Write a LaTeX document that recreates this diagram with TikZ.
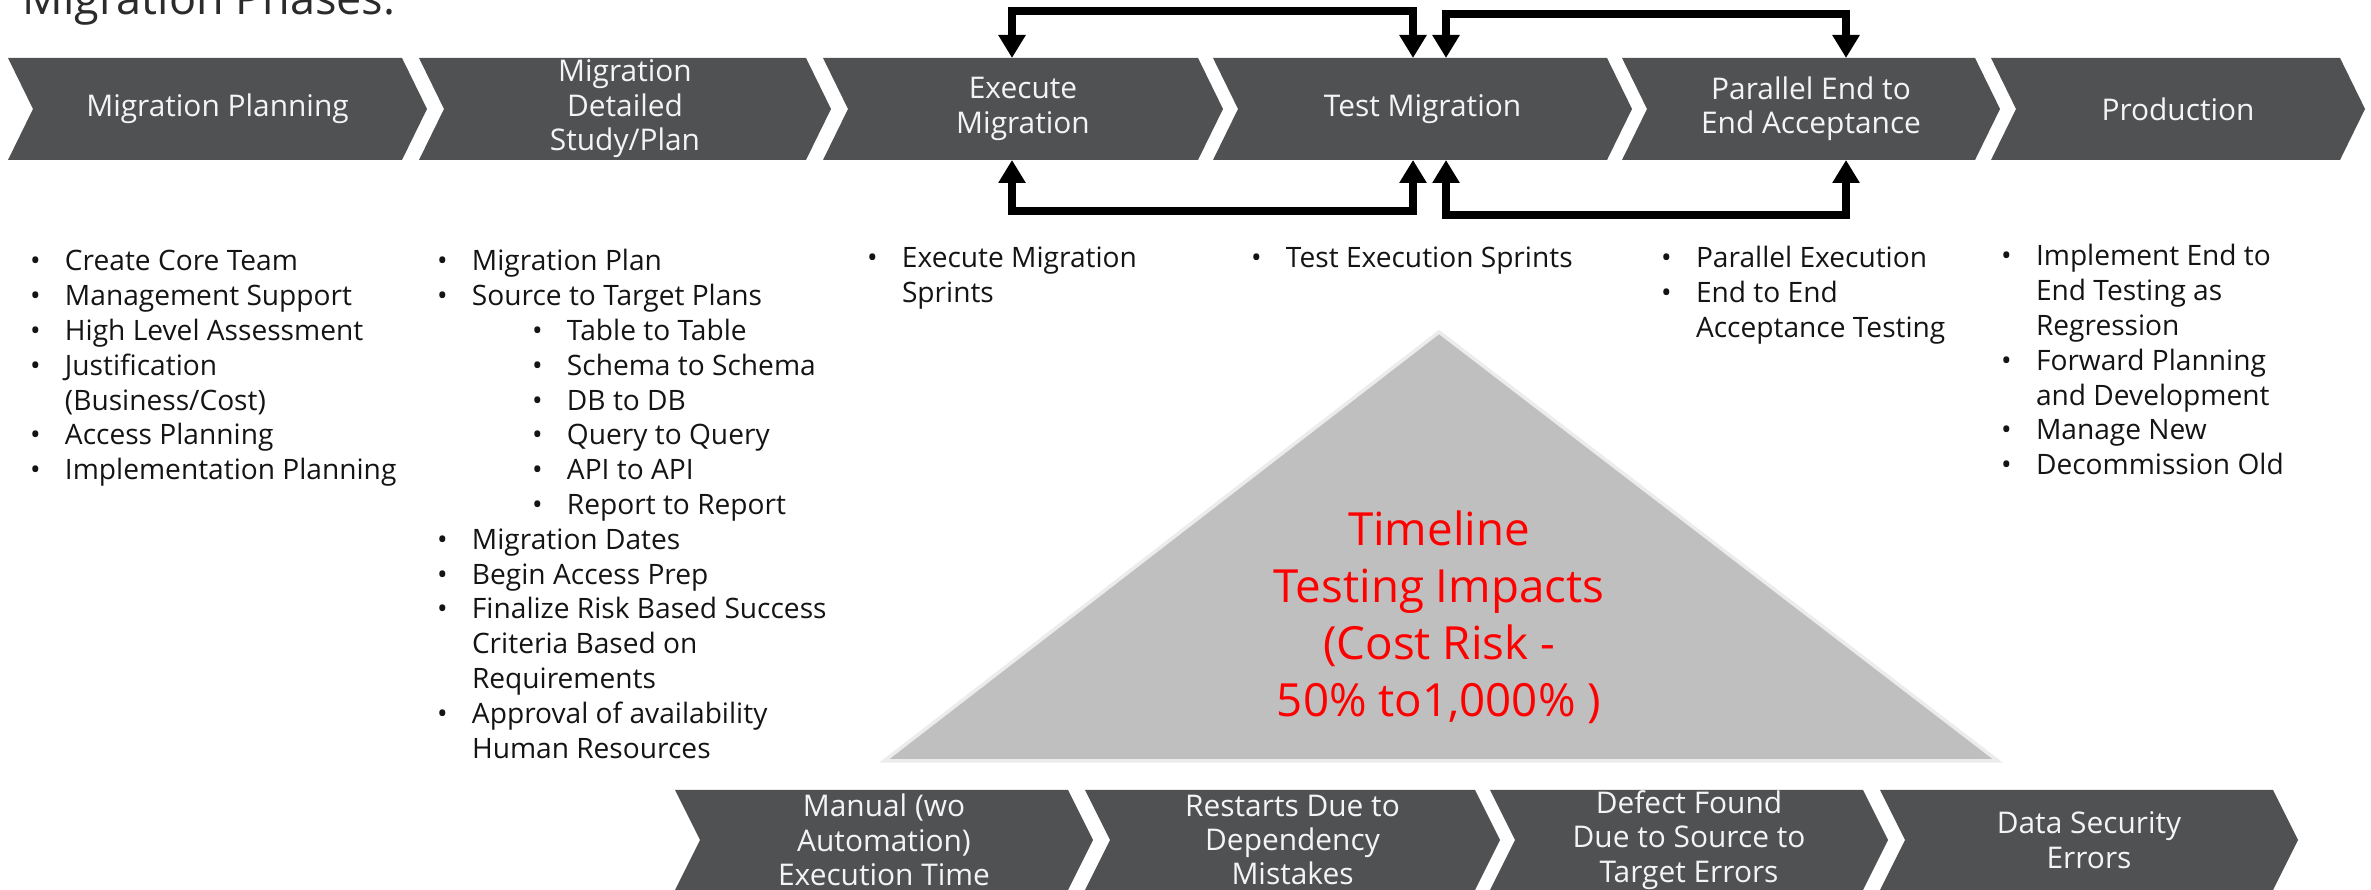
\documentclass[tikz,border=0pt]{standalone}
\usepackage{fontspec}
\setmainfont{Open Sans}
\usepackage{xcolor}
\usepackage{tikz}
\usetikzlibrary{arrows.meta}
\definecolor{PhaseFill}{HTML}{505153}
\definecolor{PhaseText}{HTML}{F4F4F4}
\definecolor{ItemInk}{HTML}{141414}
\definecolor{TitleInk}{HTML}{2B2B2B}
\definecolor{ImpactFill}{HTML}{BFBFBF}
\definecolor{ImpactEdge}{HTML}{ECECEC}
\definecolor{ImpactRed}{HTML}{FF0000}
\newcommand{\PhaseLabel}{\fontsize{8.5}{9.8}\selectfont}
\newcommand{\ItemText}{\fontsize{8.0}{9.9}\selectfont}
\newcommand{\ImpactLabel}{\fontsize{13}{16.2}\selectfont}
\newcommand{\TitleLabel}{\fontsize{12.8}{15}\selectfont}
\newcommand{\bl}[1]{\makebox[0.35cm][l]{\textbullet}#1}
\newcommand{\sbl}[1]{\hspace*{0.95cm}\bl{#1}}
\newcommand{\cont}[1]{\hspace*{0.35cm}#1}
\tikzset{
  phase label/.style={inner sep=0pt,outer sep=0pt,align=center,text=PhaseText,font=\PhaseLabel},
  item list/.style={inner sep=0pt,outer sep=0pt,anchor=base west,text=ItemInk,font=\ItemText},
  loop arrow/.style={draw=black,line width=2.1pt,>={Triangle[width=0.26cm,length=0.23cm]},<->}
}

\begin{document}
\begin{tikzpicture}[x=1cm,y=1cm]
  \path[use as bounding box] (0,0) rectangle (23.71,8.90);

  \def\ytop{8.32}
  \def\hrow{1.02}
  \def\ybot{1.00}
  \def\hlow{1.00}
  \def\tipd{0.25}

  \node[anchor=base west,inner sep=0pt,text=TitleInk,font=\TitleLabel] (title)
    at (0.22,8.75) {Migration Phases:};

  % name, notch x, right x, top y, height, label
  \newcommand{\phasebox}[6]{%
    \pgfmathsetmacro{\phw}{#3-#2}%
    \pgfmathsetmacro{\phm}{#4-#5/2}%
    \pgfmathsetmacro{\phb}{#4-#5}%
    \fill[PhaseFill] ({#2-\tipd},#4) -- (#3,#4) -- ({#3+\tipd},\phm)
      -- (#3,\phb) -- ({#2-\tipd},\phb) -- (#2,\phm) -- cycle;%
    \node[phase label,minimum width=\phw cm,minimum height=#5 cm,anchor=north west]
      (#1) at (#2,#4) {#6};%
  }

  \phasebox{mp}{0.33}{4.02}{\ytop}{\hrow}{Migration Planning}
  \phasebox{ds}{4.44}{8.06}{\ytop}{\hrow}{Migration\\Detailed\\Study/Plan}
  \phasebox{ex}{8.48}{11.98}{\ytop}{\hrow}{Execute\\Migration}
  \phasebox{tm}{12.38}{16.07}{\ytop}{\hrow}{Test Migration}
  \phasebox{pe}{16.47}{19.75}{\ytop}{\hrow}{Parallel End to\\End Acceptance}
  \phasebox{pr}{20.16}{23.40}{\ytop}{\hrow}{Production}

  \phasebox{ma}{7.00}{10.68}{\ybot}{\hlow}{Manual (wo\\Automation)\\Execution Time}
  \phasebox{rd}{11.10}{14.75}{\ybot}{\hlow}{Restarts Due to\\Dependency\\Mistakes}
  \phasebox{df}{15.15}{18.63}{\ybot}{\hlow}{Defect Found\\Due to Source to\\Target Errors}
  \phasebox{dse}{19.05}{22.73}{\ybot}{\hlow}{Data Security\\Errors}

  % feedback loops between execute, test and acceptance
  \coordinate (loopA1) at (10.12,8.79);
  \coordinate (loopA2) at (14.13,8.79);
  \coordinate (loopB1) at (14.46,8.76);
  \coordinate (loopB2) at (18.46,8.76);
  \coordinate (loopC1) at (10.12,6.79);
  \coordinate (loopC2) at (14.13,6.79);
  \coordinate (loopD1) at (14.46,6.75);
  \coordinate (loopD2) at (18.46,6.75);
  \draw[loop arrow] (loopA1 |- ex.north) -- (loopA1) -- (loopA2) -- (loopA2 |- tm.north);
  \draw[loop arrow] (loopB1 |- tm.north) -- (loopB1) -- (loopB2) -- (loopB2 |- pe.north);
  \draw[loop arrow] (loopC1 |- ex.south) -- (loopC1) -- (loopC2) -- (loopC2 |- tm.south);
  \draw[loop arrow] (loopD1 |- tm.south) -- (loopD1) -- (loopD2) -- (loopD2 |- pe.south);

  \node[item list] (planlist) at (0.30,6.19) {\begin{tabular}[t]{@{}l@{}}
    \bl{Create Core Team}\\
    \bl{Management Support}\\
    \bl{High Level Assessment}\\
    \bl{Justification}\\
    \cont{(Business/Cost)}\\
    \bl{Access Planning}\\
    \bl{Implementation Planning}
  \end{tabular}};
  \node[item list] (studylist) at (4.37,6.19) {\begin{tabular}[t]{@{}l@{}}
    \bl{Migration Plan}\\
    \bl{Source to Target Plans}\\
    \sbl{Table to Table}\\
    \sbl{Schema to Schema}\\
    \sbl{DB to DB}\\
    \sbl{Query to Query}\\
    \sbl{API to API}\\
    \sbl{Report to Report}\\
    \bl{Migration Dates}\\
    \bl{Begin Access Prep}\\
    \bl{Finalize Risk Based Success}\\
    \cont{Criteria Based on}\\
    \cont{Requirements}\\
    \bl{Approval of availability}\\
    \cont{Human Resources}
  \end{tabular}};
  \node[item list] (execlist) at (8.67,6.22) {\begin{tabular}[t]{@{}l@{}}
    \bl{Execute Migration}\\
    \cont{Sprints}
  \end{tabular}};
  \node[item list] (testlist) at (12.51,6.22) {\begin{tabular}[t]{@{}l@{}}
    \bl{Test Execution Sprints}
  \end{tabular}};
  \node[item list] (acceptlist) at (16.61,6.22) {\begin{tabular}[t]{@{}l@{}}
    \bl{Parallel Execution}\\
    \bl{End to End}\\
    \cont{Acceptance Testing}
  \end{tabular}};
  \node[item list] (prodlist) at (20.01,6.24) {\begin{tabular}[t]{@{}l@{}}
    \bl{Implement End to}\\
    \cont{End Testing as}\\
    \cont{Regression}\\
    \bl{Forward Planning}\\
    \cont{and Development}\\
    \bl{Manage New}\\
    \bl{Decommission Old}
  \end{tabular}};

  \filldraw[fill=ImpactFill,draw=ImpactEdge,line width=1pt]
    (8.84,1.29) -- (14.39,5.58) -- (19.98,1.29) -- cycle;
  \node[align=center,text=ImpactRed,font=\ImpactLabel] (impact) at (14.39,2.725)
    {Timeline\\Testing Impacts\\(Cost Risk -\\50\% to1,000\% )};
\end{tikzpicture}
\end{document}
